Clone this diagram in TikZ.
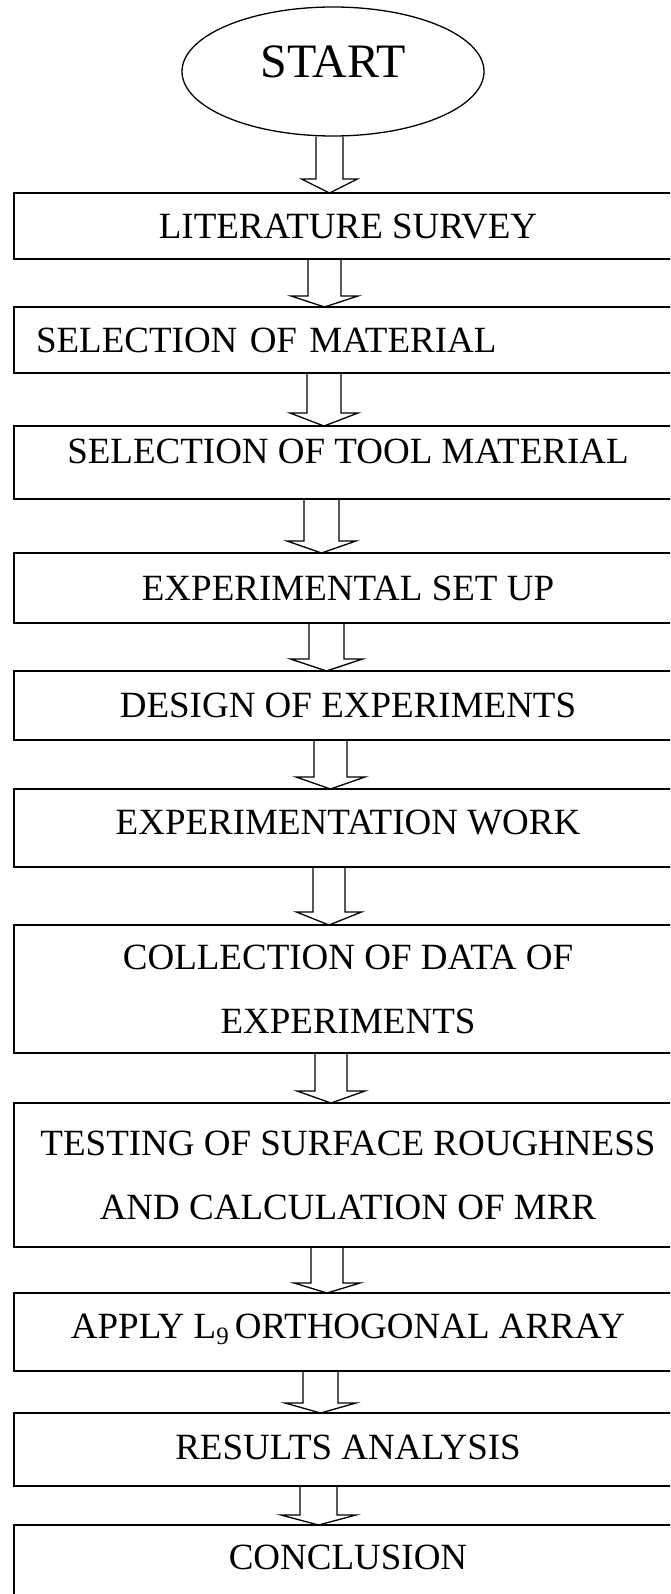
\documentclass[tikz,border=0pt]{standalone}
\usepackage{fontspec}
\setmainfont{Liberation Serif}
\usetikzlibrary{shapes.geometric,calc}

% block arrow: from node, to node, tip x, half shaft width, half head width, head length
\newcommand\flowarrow[6]{%
  \draw[arrowline] let \p1=(#1.south), \p2=(#2.north) in
    (#3pt-#4pt,\y1) -- (#3pt-#4pt,\y2+#6pt) -- (#3pt-#5pt,\y2+#6pt) -- (#3pt,\y2)
    -- (#3pt+#5pt,\y2+#6pt) -- (#3pt+#4pt,\y2+#6pt) -- (#3pt+#4pt,\y1);}

\begin{document}
\begin{tikzpicture}[x=1pt,y=1pt,
  boxbase/.style={draw, line width=2pt, rectangle, anchor=north west,
    minimum width=668pt, inner sep=0pt, outer sep=0pt,
    font=\fontsize{37}{64}\selectfont, align=center},
  stepbox/.style={boxbase, text height=24.5pt, text depth=#1},
  stepbox/.default=0pt,
  twobox/.style={boxbase},
  startnode/.style={ellipse, draw, line width=1.3pt, minimum width=302pt,
    minimum height=129pt, inner sep=0pt, font=\fontsize{48}{48}\selectfont,
    text height=31.8pt, text depth=19pt},
  arrowline/.style={line width=1.3pt, line join=miter}]

\useasboundingbox (0,0) rectangle (670,-1594);
\fill[white] (0,0) rectangle (670,-1594);
\clip (0,0) rectangle (670,-1594);

\node[startnode] (start) at (333,-71.5) {START};

\node[stepbox, minimum height=66pt] (lit) at (14,-193) {LITERATURE SURVEY};
\node[stepbox, minimum height=66pt, text width=624pt, align=left] (mat) at (14,-307) {SELECTION OF MATERIAL};
\node[stepbox=22pt, minimum height=73pt] (tool) at (14,-426) {SELECTION OF TOOL MATERIAL};
\node[stepbox, minimum height=70pt] (setup) at (14,-553) {EXPERIMENTAL SET UP};
\node[stepbox, minimum height=69pt] (doe) at (14,-671) {DESIGN OF EXPERIMENTS};
\node[stepbox=12pt, minimum height=78pt] (work) at (14,-789) {EXPERIMENTATION WORK};
\node[twobox, minimum height=128pt] (data) at (14,-925) {COLLECTION OF DATA OF\\EXPERIMENTS};
\node[twobox, minimum height=144pt] (test) at (14,-1103) {TESTING OF SURFACE ROUGHNESS\\AND CALCULATION OF MRR};
\node[stepbox=12pt, minimum height=78pt] (apply) at (14,-1293)
  {APPLY L\raisebox{-0.17em}{\fontsize{25}{25}\selectfont 9}\,ORTHOGONAL ARRAY};
\node[stepbox=5pt, minimum height=73pt] (res) at (14,-1413) {RESULTS ANALYSIS};
\node[stepbox=16pt, minimum height=80pt] (concl) at (14,-1525) {CONCLUSION};

\flowarrow{start}{lit}{329.5}{13.5}{28}{14}
\flowarrow{lit}{mat}{324.5}{16.5}{33.5}{11}
\flowarrow{mat}{tool}{324}{17}{34}{13}
\flowarrow{tool}{setup}{321.5}{17.5}{34.5}{12}
\flowarrow{setup}{doe}{326.5}{17.5}{36}{12}
\flowarrow{doe}{work}{330.5}{16.5}{34.5}{12}
\flowarrow{work}{data}{329}{16}{32.5}{13}
\flowarrow{data}{test}{331}{16}{34}{12}
\flowarrow{test}{apply}{327}{16}{33}{10}
\flowarrow{apply}{res}{320.5}{17.5}{35.5}{10}
\flowarrow{res}{concl}{318.5}{18.5}{37.5}{10}
\end{tikzpicture}
\end{document}
